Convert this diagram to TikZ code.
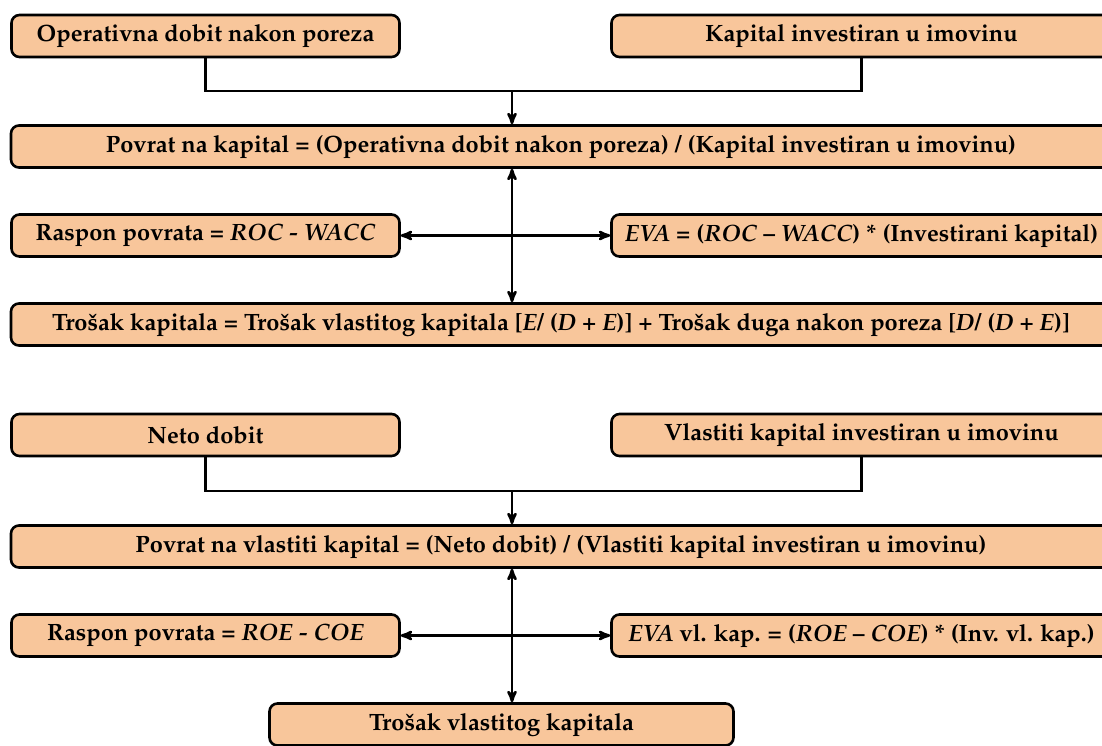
\documentclass[tikz,border=0pt]{standalone}
\usepackage[T1]{fontenc}
\usepackage{mathpazo}
\usepackage{tikz}
\usetikzlibrary{arrows}
\definecolor{peach}{RGB}{248,198,155}
\tikzstyle{block}=[rectangle, rounded corners=8pt, draw=black, fill=peach, line width=2.6pt, minimum height=42pt, inner sep=0pt, font=\fontsize{23.6}{28}\selectfont\bfseries]
\tikzstyle{narrow}=[block, minimum width=388pt]
\tikzstyle{side}=[block, minimum width=500pt]
\tikzstyle{wide}=[block, minimum width=1100pt]
\tikzstyle{link}=[line width=2.7pt]

\begin{document}
\begin{tikzpicture}[x=1pt, y=-1pt, >=stealth', link]
          \useasboundingbox (0,0) rectangle (1102,745);
          % upper part
          \node[narrow] (odp) at (205.5,36) {Operativna dobit nakon poreza};
          \node[side] (kii) at (861.5,36) {Kapital investiran u imovinu};
          \node[wide] (roc) at (561,146.5) {Povrat na kapital = (Operativna dobit nakon poreza) / (Kapital investiran u imovinu)};
          \node[narrow] (rpk) at (205.5,235.5) {Raspon povrata = \textit{ROC - WACC}};
          \node[side] (eva) at (861.5,235.5) {\textit{EVA} = (\textit{ROC} -- \textit{WACC}) * (Investirani kapital)};
          \node[wide] (wacc) at (561,324.5) {Tro\v{s}ak kapitala = Tro\v{s}ak vlastitog kapitala [\textit{E}/ (\textit{D} + \textit{E})] + Tro\v{s}ak duga nakon poreza [\textit{D}/ (\textit{D} + \textit{E})]};
          \coordinate (j1) at (512,91);

          \draw (odp) |- (j1);
          \draw (kii) |- (j1);
          \draw[->] (j1) -- (j1 |- roc.north);
          \draw[<->] (j1 |- roc.south) -- (j1 |- wacc.north);
          \draw[<->] (rpk) -- (eva);

          % lower part
          \node[narrow] (nd) at (205.5,435) {Neto dobit};
          \node[side] (vki) at (861.5,435) {Vlastiti kapital investiran u imovinu};
          \node[wide] (roe) at (561,546.5) {Povrat na vlastiti kapital = (Neto dobit) / (Vlastiti kapital investiran u imovinu)};
          \node[narrow] (rpv) at (205.5,635.5) {Raspon povrata = \textit{ROE - COE}};
          \node[side] (evav) at (861.5,635.5) {\textit{EVA} vl. kap. = (\textit{ROE} -- \textit{COE}) * (Inv. vl. kap.)};
          \node[block, minimum width=464pt] (coe) at (501.5,724.5) {Tro\v{s}ak vlastitog kapitala};
          \coordinate (j2) at (512,491);

          \draw (nd) |- (j2);
          \draw (vki) |- (j2);
          \draw[->] (j2) -- (j2 |- roe.north);
          \draw[<->] (j2 |- roe.south) -- (j2 |- coe.north);
          \draw[<->] (rpv) -- (evav);
        \end{tikzpicture}
\end{document}
